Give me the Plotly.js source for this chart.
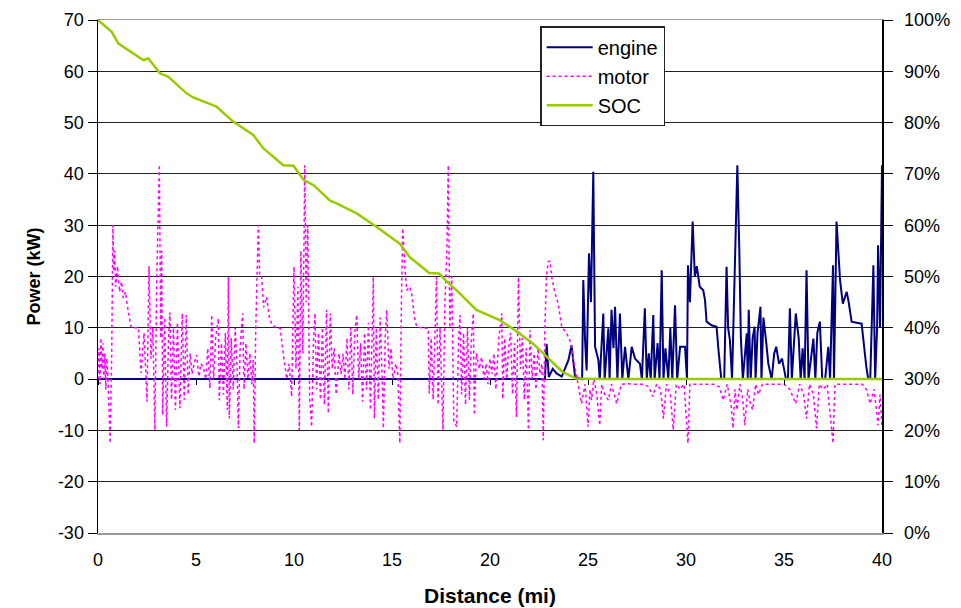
<!DOCTYPE html>
<html><head><meta charset="utf-8">
<script src="https://cdn.plot.ly/plotly-3.0.1.min.js"></script>
<style>html,body{margin:0;padding:0;background:#fff}#chart{width:961px;height:608px}</style>
</head><body><div id="chart"></div>
<script>
// Distance ticks
const distTicks = [0,5,10,15,20,25,30,35,40];

// Engine power (kW)
const engineX = [0,22.8,22.89,23.0,23.2,23.4,23.66,24.0,24.16,24.34,24.7,24.76,24.85,24.93,25.05,25.15,25.27,25.36,25.53,25.6,25.78,25.85,26.04,26.1,26.2,26.3,26.38,26.5,26.63,26.75,26.89,27.06,27.23,27.4,27.65,27.75,27.9,28.0,28.1,28.2,28.33,28.4,28.55,28.65,28.76,28.85,28.95,29.1,29.2,29.3,29.44,29.55,29.7,29.95,30.05,30.1,30.2,30.34,30.45,30.55,30.7,30.88,30.97,31.05,31.3,31.56,31.65,31.8,31.95,32.07,32.15,32.24,32.35,32.5,32.62,32.72,32.8,32.9,33.1,33.15,33.2,33.3,33.4,33.5,33.55,33.65,33.8,33.85,33.95,34.1,34.2,34.37,34.5,34.6,34.75,34.9,35.0,35.1,35.2,35.3,35.4,35.6,35.75,35.85,35.95,36.05,36.15,36.25,36.5,36.6,36.7,36.83,36.95,37.1,37.26,37.35,37.5,37.55,37.68,37.86,38.0,38.2,38.3,38.45,38.7,38.96,39.2,39.3,39.4,39.47,39.56,39.65,39.75,39.8,39.9,40.0];
const engineY = [0,0,6.9,0.4,2,1.1,0.5,3.7,6.6,0.4,0,19.3,7.6,1.7,24.5,15,40.4,6.3,3.7,0,12.8,0,9.9,0,13.5,6,14.1,0,12.8,0,6.3,0,6.3,4,3,0,13.8,0,5,0,12.5,0,7,0,21.2,0,6,0,10,0,14.4,0,6.3,6.3,0,22.2,15,30.7,20,22,18,17.3,15.4,11.2,10.5,10.2,6,0,0,21.9,10,7.6,0,26.1,41.7,25.1,8,0,8.9,0,13.5,0,8,10.2,0,9,14.1,0,12,6.9,3,0,5,6.3,3,4,2,0,0,13.8,0,12.8,8,0,6,0,21.2,0,7.9,0,9,11.2,0,0,6.3,0,22.2,0,30.7,19.3,14.7,17,15,11.2,11,10.8,2.4,0,0,12.1,22.2,0,10,26.1,10,41.7];

// Motor power (kW)
const motorX = [0,0.05,0.1,0.15,0.2,0.25,0.3,0.35,0.4,0.45,0.5,0.56,0.62,0.7,0.76,0.8,0.85,0.9,1.0,1.1,1.2,1.29,1.4,1.55,1.7,1.85,2.06,2.2,2.35,2.5,2.6,2.7,2.8,2.9,3.0,3.13,3.2,3.25,3.3,3.4,3.5,3.6,3.67,3.75,3.85,3.95,4.05,4.18,4.3,4.4,4.5,4.6,4.7,4.8,4.9,5.03,5.15,5.25,5.37,5.5,5.6,5.71,5.8,5.9,6.0,6.14,6.19,6.3,6.4,6.5,6.6,6.65,6.7,6.8,6.9,7.0,7.1,7.16,7.25,7.38,7.45,7.55,7.65,7.75,7.85,7.92,7.97,8.05,8.12,8.18,8.25,8.35,8.45,8.6,8.75,8.86,9.1,9.3,9.45,9.63,9.75,9.88,10.0,10.1,10.2,10.27,10.35,10.45,10.55,10.62,10.7,10.8,10.9,11.0,11.07,11.15,11.25,11.35,11.45,11.55,11.66,11.75,11.85,11.95,12.05,12.15,12.3,12.4,12.5,12.6,12.7,12.8,12.9,13.0,13.1,13.2,13.3,13.4,13.5,13.6,13.7,13.8,13.9,14.05,14.1,14.2,14.3,14.4,14.5,14.56,14.65,14.73,14.85,14.95,15.05,15.2,15.3,15.4,15.48,15.55,15.65,15.75,15.9,16.0,16.15,16.26,16.5,16.85,16.9,17.0,17.1,17.2,17.27,17.35,17.45,17.6,17.7,17.8,17.87,17.95,18.05,18.15,18.3,18.4,18.47,18.55,18.65,18.75,18.85,18.95,19.05,19.15,19.2,19.3,19.45,19.57,19.7,19.8,19.9,20.0,20.1,20.2,20.3,20.45,20.6,20.65,20.75,20.85,20.95,21.05,21.15,21.25,21.35,21.45,21.55,21.65,21.75,21.85,21.96,22.04,22.15,22.25,22.35,22.45,22.55,22.65,22.72,22.8,22.88,22.97,23.06,23.15,23.3,23.48,23.66,23.91,24.1,24.3,24.5,24.67,24.85,25.0,25.1,25.18,25.3,25.45,25.6,25.7,25.85,26.04,26.2,26.46,26.7,27.06,27.4,27.8,28.1,28.3,28.5,28.7,28.85,29.0,29.2,29.35,29.5,29.7,29.9,30.1,30.2,30.5,30.8,31.1,31.4,31.7,31.9,32.1,32.3,32.4,32.5,32.6,32.75,32.9,33.0,33.15,33.3,33.4,33.55,33.7,33.9,34.2,34.6,35.0,35.3,35.6,35.8,36.0,36.15,36.3,36.5,36.66,36.8,37.0,37.2,37.5,37.6,37.9,38.3,38.7,39.0,39.2,39.4,39.6,39.8,39.9,40.0];
const motorY = [0,6,-1,8,2,7,0,5,-2,4,1,-6,-12.5,5,30,21,25,18,22,17,19,15.8,17,13,10,10,10,1.2,9,-4.4,22,4,10,-9.9,20,41.8,8,25,-7,12,-9.3,8,13,-4,10,-6,11,-5.7,12.8,-4,12.5,-3,5,1,3,4.7,0.5,3,2.4,0,6,-1.8,12.5,0,8,11.8,-4.1,7,-3,9,-6,19.9,-7.7,8,-2,10,2,-9.6,6,12.8,-2,7,0,5,-1,3.7,-12.5,10,20,30,20,19.9,14,16,12,10.8,9.9,9.9,5,0,3,-3.4,21.9,2,18,-9.9,25,5,41.7,15,30,-4,-9.3,8,12.8,-2,9,-4,10,-5,13.5,-6.7,12.8,2,6,-3,5,1,5,0,8,-2,10,-3,9,12.5,0,7,-4.4,9,-2,11,-6,19.9,-7.7,10,-4,12,0,-9.6,8,13.5,2,6,0,3,1,-12.5,15,29.4,22,17.3,18,16.7,12,10.2,10,9.9,-2.8,8,-4,12,19.9,-5,10,-9.9,15,25,41.7,10,20,-8,-9.3,8,12.5,-3,9,-5,10,-4,8,12.8,-7,5,2,4.3,0,3,-1,4,1,5,-2,8,12.8,-3.9,8,0,6,9,-3,7,-7.4,19.9,2,8,-4,6,-9.9,9.5,0,5,-2,6,1,3,-11.9,10,20,22.9,23,19.9,17,14.7,10.2,8.9,7.3,3,-1.5,-4.8,-1,-9.3,-2,-4.1,0,-3,-9,-1,-3,-4.1,-1,-4.8,-1,-0.9,-1,-1,-1.5,-3.4,-1,-2,-7.7,-1,-3,-9.9,-1,-2,-1,-12.5,-1,-1,-1,-1,-1,-1.5,-4.1,-1,-5,-9.6,-2,-6,-1,-4,-9,-2,-5,-6,-1,-3,-1,-1,-1,-1,-2,-4.8,-1,-3,-7.7,-1,-3,-9.6,-1,-2,-1,-12.5,-1,-1,-1,-1,-1,-2,-4.8,-2,-9,-3,-9.3];

// State of charge (fraction)
const socX = [0,0.7,1.04,1.8,2.31,2.57,2.9,3.16,3.59,4.52,4.86,5.71,6.05,6.9,7.92,8.43,9.45,9.97,10.5,11.0,11.84,12.2,13.2,14.2,15.4,15.9,16.9,17.4,17.8,18.3,19.3,20.5,21.4,22.2,22.9,23.7,24.4,25.0,25.6,30,35,40];
const socY = [1.0,0.977,0.954,0.935,0.922,0.925,0.909,0.896,0.889,0.857,0.849,0.837,0.831,0.802,0.776,0.750,0.717,0.716,0.688,0.678,0.648,0.642,0.623,0.597,0.564,0.538,0.507,0.506,0.490,0.473,0.435,0.415,0.392,0.369,0.343,0.314,0.301,0.3,0.3,0.3,0.3,0.3];

const powerTicks = [-30,-20,-10,0,10,20,30,40,50,60,70];
const socTicks = [0,0.1,0.2,0.3,0.4,0.5,0.6,0.7,0.8,0.9,1.0];

const FONT = 'Liberation Sans, Arial, sans-serif';

const traces = [
  {x: engineX, y: engineY, name: 'engine', type: 'scatter', mode: 'lines',
   line: {color: '#000080', width: 2}, xaxis: 'x', yaxis: 'y'},
  {x: motorX, y: motorY, name: 'motor', type: 'scatter', mode: 'lines',
   line: {color: '#FF00FF', width: 1.5, dash: 'dot'}, xaxis: 'x', yaxis: 'y'},
  {x: socX, y: socY, name: 'SOC', type: 'scatter', mode: 'lines',
   line: {color: '#99CC00', width: 2.5}, xaxis: 'x2', yaxis: 'y2'}
];

const layout = {
  width: 961, height: 608,
  margin: {l: 98, r: 79, t: 20, b: 75},
  paper_bgcolor: '#fff', plot_bgcolor: '#fff',
  font: {family: FONT, size: 18, color: '#000'},
  showlegend: true,
  legend: {x: 0.564, y: 0.988, xanchor: 'left', yanchor: 'top', itemwidth: 46,
           bgcolor: '#fff', bordercolor: '#222', borderwidth: 1.5,
           font: {family: FONT, size: 20, color: '#000'}},
  xaxis: {range: [0, 40], tickvals: distTicks, ticks: '', showgrid: false, zeroline: false,
          showline: true, linecolor: '#999', linewidth: 1.5, mirror: true,
          tickfont: {family: FONT, size: 18}, ticklabelstandoff: 10,
          title: {text: '<b>Distance (mi)</b>', font: {family: FONT, size: 21}, standoff: 19}},
  xaxis2: {range: [0, 40], tickvals: distTicks, overlaying: 'x', anchor: 'free', position: 0.3,
           ticks: 'outside', ticklen: 5, tickcolor: '#000', showticklabels: false,
           showgrid: false, zeroline: false, showline: false},
  yaxis: {range: [-30, 70], tickvals: powerTicks, ticktext: powerTicks.map(String),
          ticks: 'outside', ticklen: 9, tickcolor: '#000',
          showgrid: true, gridcolor: '#222', gridwidth: 1, zeroline: false,
          showline: true, linecolor: '#000', linewidth: 1.5,
          tickfont: {family: FONT, size: 18},
          title: {text: '<b>Power (kW)</b>', font: {family: FONT, size: 18}, standoff: 12}},
  yaxis2: {range: [0, 1], tickvals: socTicks, tickformat: '.0%', overlaying: 'y', side: 'right', anchor: 'x2',
           ticks: 'outside', ticklen: 9, tickcolor: '#000', showgrid: false, zeroline: false,
           showline: true, linecolor: '#000', linewidth: 1.5, ticklabelstandoff: 8,
           tickfont: {family: FONT, size: 18}}
};

Plotly.newPlot('chart', traces, layout, {staticPlot: true});
</script></body></html>
